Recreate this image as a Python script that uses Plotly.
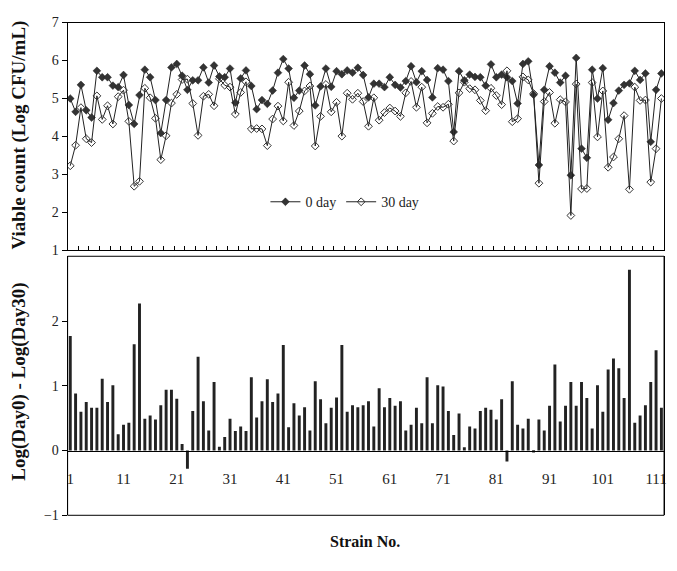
import plotly.graph_objects as go

strain = list(range(1, 113))

day0 = [5.00, 4.65, 5.36, 4.69, 4.50, 5.73, 5.56, 5.56, 5.34, 5.30,
        5.62, 4.83, 4.33, 5.09, 5.76, 5.56, 4.96, 4.09, 4.96, 5.82,
        5.91, 5.60, 5.23, 5.48, 5.48, 5.82, 5.42, 5.87, 5.58, 5.56,
        5.79, 4.89, 5.53, 5.74, 5.33, 4.72, 4.96, 4.86, 5.21, 5.68,
        6.04, 5.79, 5.02, 5.21, 5.87, 5.64, 4.82, 5.32, 5.79, 5.31,
        5.72, 5.64, 5.74, 5.68, 5.81, 5.62, 5.03, 5.39, 5.39, 5.30,
        5.56, 5.36, 5.29, 5.46, 5.85, 5.43, 5.72, 5.49, 5.03, 5.80,
        5.76, 5.46, 4.12, 5.72, 5.48, 5.63, 5.57, 5.56, 5.34, 5.90,
        5.56, 5.63, 5.56, 5.46, 4.87, 5.91, 5.98, 5.10, 3.25, 5.23,
        5.85, 5.68, 5.42, 5.60, 2.98, 6.07, 3.68, 3.44, 5.76, 5.00,
        5.80, 4.44, 4.88, 5.21, 5.36, 5.40, 5.73, 5.49, 5.66, 3.86,
        5.23, 5.66]

day30 = [3.23, 3.77, 4.76, 3.94, 3.84, 5.07, 4.45, 4.81, 4.33, 5.05,
         5.22, 4.40, 2.69, 2.82, 5.27, 5.02, 4.48, 3.39, 4.02, 4.88,
         5.11, 5.50, 5.51, 4.87, 4.03, 5.06, 5.11, 4.81, 5.52, 5.35,
         5.30, 4.59, 5.16, 5.44, 4.20, 4.21, 4.20, 3.76, 4.46, 4.80,
         4.41, 5.43, 4.29, 4.67, 5.20, 5.33, 3.75, 4.53, 5.37, 4.65,
         4.90, 4.01, 5.14, 4.98, 5.14, 4.92, 4.27, 5.02, 4.43, 4.63,
         4.75, 4.67, 4.53, 5.15, 5.45, 4.77, 5.30, 4.36, 4.61, 4.79,
         4.77, 4.85, 3.88, 5.15, 5.43, 5.26, 5.23, 4.95, 4.68, 5.27,
         5.08, 4.84, 5.73, 4.39, 4.47, 5.57, 5.49, 5.13, 2.77, 4.92,
         5.16, 4.35, 4.97, 4.91, 1.92, 5.38, 2.62, 2.63, 5.42, 3.99,
         5.20, 3.19, 3.46, 3.94, 4.55, 2.61, 5.30, 4.95, 4.96, 2.80,
         3.68, 5.00]

log_diff = [1.77, 0.88, 0.60, 0.75, 0.66, 0.66, 1.11, 0.75, 1.01, 0.25,
            0.40, 0.43, 1.64, 2.27, 0.49, 0.54, 0.48, 0.70, 0.94, 0.94,
            0.80, 0.10, -0.28, 0.61, 1.45, 0.76, 0.31, 1.06, 0.06, 0.21,
            0.49, 0.30, 0.37, 0.30, 1.13, 0.51, 0.76, 1.10, 0.75, 0.88,
            1.63, 0.36, 0.73, 0.54, 0.67, 0.31, 1.07, 0.79, 0.42, 0.66,
            0.82, 1.63, 0.60, 0.70, 0.67, 0.70, 0.76, 0.37, 0.96, 0.67,
            0.81, 0.69, 0.76, 0.31, 0.40, 0.66, 0.42, 1.13, 0.42, 1.01,
            0.99, 0.61, 0.24, 0.57, 0.05, 0.37, 0.34, 0.61, 0.66, 0.63,
            0.48, 0.79, -0.17, 1.07, 0.40, 0.34, 0.49, -0.03, 0.48, 0.31,
            0.69, 1.33, 0.45, 0.69, 1.06, 0.69, 1.06, 0.81, 0.34, 1.01,
            0.60, 1.25, 1.42, 1.27, 0.81, 2.79, 0.43, 0.54, 0.70, 1.06,
            1.55, 0.66]

x_labels = [1, 11, 21, 31, 41, 51, 61, 71, 81, 91, 101, 111]
top_ticks = [1, 2, 3, 4, 5, 6, 7]
bot_ticks = [-1, 0, 1, 2]

W, H = 677, 571
FONT = "Liberation Serif, Times New Roman, serif"
x_dom = [67 / W, 667 / W]
top_dom = [1 - 250 / H, 1 - 16 / H]
bot_dom = [1 - 522 / H, 1 - 256 / H]
bot_range = [-1, 3]
zero_pos = bot_dom[0] + (0 - bot_range[0]) / (bot_range[1] - bot_range[0]) * (bot_dom[1] - bot_dom[0])

fig = go.Figure()

fig.add_trace(go.Scatter(
    x=strain, y=day0, name="0 day", mode="lines+markers",
    line=dict(color="#222222", width=1),
    marker=dict(symbol="diamond", size=6, color="#333333", line=dict(color="#222222", width=0.5)),
    xaxis="x", yaxis="y"))
fig.add_trace(go.Scatter(
    x=strain, y=day30, name="30 day", mode="lines+markers",
    line=dict(color="#222222", width=1),
    marker=dict(symbol="diamond-open", size=6, color="#333333", line=dict(width=1)),
    xaxis="x", yaxis="y"))

fig.add_trace(go.Bar(
    x=strain, y=log_diff, marker=dict(color="#222222", line=dict(width=0)),
    width=0.55, showlegend=False, xaxis="x2", yaxis="y2"))

minor_vals = [0.5 + 2 * k for k in range(1, 56)]

fig.update_layout(
    width=W, height=H,
    margin=dict(l=0, r=0, t=0, b=0),
    paper_bgcolor="white", plot_bgcolor="white",
    font=dict(family=FONT, size=14, color="#222222"),
    showlegend=True,
    legend=dict(orientation="h", x=266 / W, y=1 - 184 / H, xanchor="left", yanchor="top",
                bgcolor="rgba(0,0,0,0)", font=dict(family=FONT, size=14),
                itemwidth=30, tracegroupgap=0),
    xaxis=dict(domain=x_dom, range=[0.5, 112.5], anchor="y",
               showline=True, linecolor="black", linewidth=1, mirror=True,
               showgrid=False, zeroline=False, showticklabels=False,
               tickmode="array", tickvals=minor_vals, ticks="inside", ticklen=4,
               tickcolor="black"),
    yaxis=dict(domain=top_dom, range=[1, 7], anchor="x",
               showline=True, linecolor="black", linewidth=1, mirror=True,
               showgrid=False, zeroline=False,
               tickmode="array", tickvals=top_ticks, ticks="outside", ticklen=5,
               tickcolor="black", tickfont=dict(family=FONT, size=14)),
    xaxis2=dict(domain=x_dom, range=[0.5, 112.5], anchor="free", position=zero_pos,
                showline=True, linecolor="black", linewidth=1,
                showgrid=False, zeroline=False,
                tickmode="array", tickvals=x_labels, ticks="", ticklabelstandoff=14,
                tickfont=dict(family=FONT, size=15)),
    yaxis2=dict(domain=bot_dom, range=bot_range, anchor="x2",
                showline=True, linecolor="black", linewidth=1, mirror=True,
                showgrid=False, zeroline=False,
                tickmode="array", tickvals=bot_ticks, ticks="outside", ticklen=5,
                tickcolor="black", tickfont=dict(family=FONT, size=14)),
    bargap=0.45,
)

fig.add_shape(type="rect", xref="x2 domain", yref="y2 domain", x0=0, x1=1, y0=0, y1=1,
              line=dict(color="black", width=1), fillcolor="rgba(0,0,0,0)", layer="above")

fig.add_annotation(text="<b>Viable count (Log CFU/mL)</b>", xref="paper", yref="paper",
                   x=18 / W, y=1 - 131 / H, textangle=-90, showarrow=False,
                   xanchor="center", yanchor="middle", font=dict(family=FONT, size=19, color="#111111"))
fig.add_annotation(text="<b>Log(Day0) - Log(Day30)</b>", xref="paper", yref="paper",
                   x=18 / W, y=1 - 385 / H, textangle=-90, showarrow=False,
                   xanchor="center", yanchor="middle", font=dict(family=FONT, size=19, color="#111111"))
fig.add_annotation(text="<b>Strain No.</b>", xref="paper", yref="paper",
                   x=366 / W, y=1 - 549 / H, showarrow=False,
                   xanchor="center", yanchor="middle", font=dict(family=FONT, size=16, color="#111111"))

fig.write_html("out.html")
